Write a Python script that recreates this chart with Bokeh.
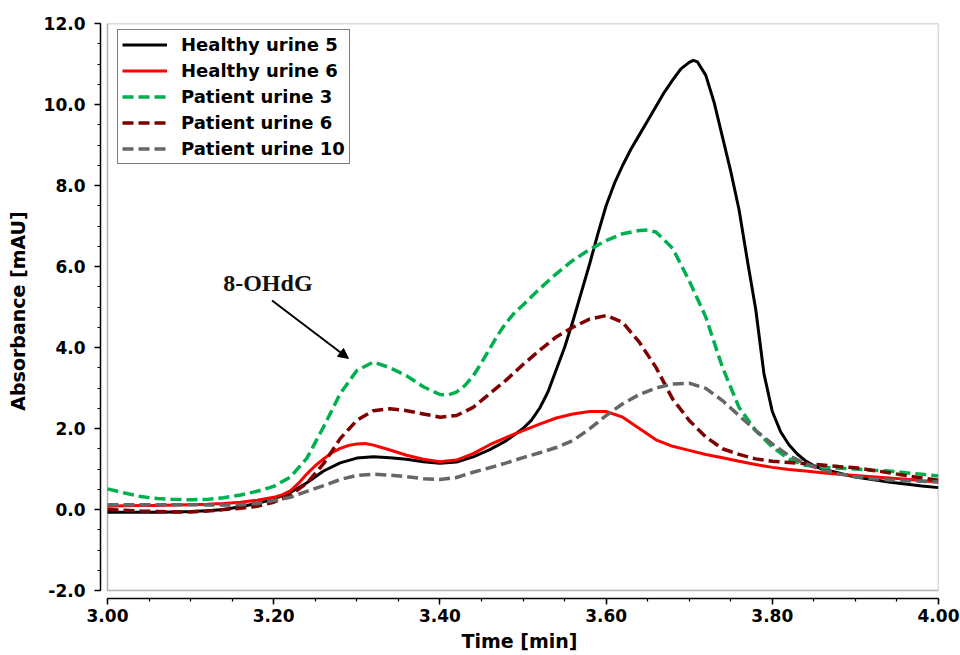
from bokeh.plotting import figure
from bokeh.models import (Range1d, FixedTicker, NumeralTickFormatter, BoxAnnotation,
                          Arrow, NormalHead, Label)
from bokeh.embed import file_html
from bokeh.resources import INLINE

# ---------------- data ----------------
t_h5 = [3.00, 3.02, 3.04, 3.06, 3.08, 3.10, 3.12, 3.14, 3.16, 3.18, 3.20, 3.22, 3.24,
        3.26, 3.28, 3.30, 3.32, 3.34, 3.36, 3.38, 3.40, 3.42, 3.44, 3.46, 3.48, 3.50,
        3.51, 3.52, 3.53, 3.54, 3.55, 3.56, 3.57, 3.58, 3.59, 3.60, 3.61, 3.62, 3.63,
        3.64, 3.65, 3.66, 3.67, 3.68, 3.69, 3.70, 3.705, 3.71, 3.72, 3.73, 3.74, 3.75, 3.76,
        3.77, 3.78, 3.79, 3.80, 3.81, 3.82, 3.83, 3.84, 3.85, 3.86, 3.88, 3.90, 3.92,
        3.94, 3.96, 3.98, 4.00]
healthy5 = [-0.07, -0.07, -0.07, -0.07, -0.06, -0.05, -0.03, 0.00, 0.07, 0.15, 0.26, 0.42, 0.66,
            0.95, 1.15, 1.27, 1.30, 1.28, 1.24, 1.18, 1.14, 1.17, 1.30, 1.48, 1.70, 2.00,
            2.20, 2.50, 2.90, 3.45, 4.00, 4.65, 5.35, 6.05, 6.80, 7.50, 8.05, 8.50, 8.90,
            9.25, 9.60, 9.95, 10.30, 10.60, 10.88, 11.04, 11.09, 11.05, 10.72, 10.05, 9.20, 8.35, 7.40,
            6.15, 4.95, 3.35, 2.42, 1.92, 1.60, 1.37, 1.20, 1.08, 1.00, 0.90, 0.80, 0.74,
            0.68, 0.63, 0.58, 0.54]

t_h6 = [3.00, 3.02, 3.04, 3.06, 3.08, 3.10, 3.12, 3.14, 3.16, 3.18, 3.20, 3.21, 3.22,
        3.23, 3.24, 3.25, 3.26, 3.27, 3.28, 3.29, 3.30, 3.31, 3.32, 3.34, 3.36, 3.38,
        3.40, 3.42, 3.44, 3.46, 3.48, 3.50, 3.52, 3.54, 3.56, 3.58, 3.60, 3.62, 3.64,
        3.66, 3.68, 3.70, 3.72, 3.74, 3.76, 3.78, 3.80, 3.82, 3.84, 3.86, 3.88, 3.90,
        3.92, 3.94, 3.96, 3.98, 4.00]
healthy6 = [0.08, 0.09, 0.10, 0.10, 0.11, 0.12, 0.13, 0.15, 0.18, 0.23, 0.30, 0.36, 0.46,
            0.65, 0.88, 1.08, 1.25, 1.40, 1.51, 1.58, 1.62, 1.63, 1.59, 1.47, 1.34, 1.24,
            1.18, 1.22, 1.38, 1.60, 1.78, 1.95, 2.11, 2.26, 2.36, 2.42, 2.42, 2.28, 2.00,
            1.72, 1.56, 1.46, 1.36, 1.28, 1.19, 1.11, 1.04, 0.99, 0.95, 0.91, 0.87, 0.84,
            0.81, 0.78, 0.75, 0.71, 0.68]

t_p3 = [3.00, 3.02, 3.04, 3.06, 3.08, 3.10, 3.12, 3.14, 3.16, 3.18, 3.20, 3.22, 3.24,
        3.26, 3.28, 3.30, 3.32, 3.34, 3.36, 3.38, 3.40, 3.41, 3.42, 3.43, 3.44, 3.45,
        3.46, 3.47, 3.48, 3.49, 3.50, 3.52, 3.54, 3.56, 3.58, 3.60, 3.62, 3.64, 3.65,
        3.66, 3.68, 3.70, 3.72, 3.74, 3.76, 3.78, 3.80, 3.82, 3.84, 3.86, 3.88, 3.90,
        3.92, 3.94, 3.96, 3.98, 4.00]
patient3 = [0.51, 0.41, 0.32, 0.27, 0.25, 0.24, 0.25, 0.29, 0.36, 0.45, 0.57, 0.80, 1.27,
            2.04, 2.86, 3.43, 3.64, 3.50, 3.30, 3.03, 2.84, 2.83, 2.90, 3.06, 3.30, 3.62,
            3.97, 4.32, 4.62, 4.86, 5.05, 5.45, 5.82, 6.15, 6.42, 6.64, 6.81, 6.89, 6.90,
            6.85, 6.45, 5.65, 4.75, 3.51, 2.52, 1.95, 1.54, 1.25, 1.09, 1.04, 1.02, 1.00,
            0.97, 0.95, 0.91, 0.87, 0.83]

t_p = [3.00, 3.02, 3.04, 3.06, 3.08, 3.10, 3.12, 3.14, 3.16, 3.18, 3.20, 3.22, 3.24,
       3.26, 3.28, 3.30, 3.32, 3.34, 3.36, 3.38, 3.40, 3.42, 3.44, 3.46, 3.48, 3.50,
       3.52, 3.54, 3.56, 3.58, 3.60, 3.62, 3.64, 3.66, 3.68, 3.70, 3.72, 3.74, 3.76,
       3.78, 3.80, 3.82, 3.84, 3.86, 3.88, 3.90, 3.92, 3.94, 3.96, 3.98, 4.00]
patient6 = [0.00, -0.02, -0.04, -0.05, -0.06, -0.06, -0.04, 0.00, 0.03, 0.08, 0.18, 0.35, 0.65,
            1.13, 1.75, 2.20, 2.44, 2.49, 2.44, 2.36, 2.28, 2.32, 2.52, 2.86, 3.20, 3.58,
            3.93, 4.26, 4.50, 4.70, 4.79, 4.62, 4.13, 3.51, 2.73, 2.20, 1.79, 1.50, 1.36,
            1.25, 1.19, 1.16, 1.13, 1.10, 1.06, 1.03, 0.97, 0.91, 0.84, 0.78, 0.72]

patient10 = [0.12, 0.12, 0.12, 0.12, 0.12, 0.12, 0.11, 0.11, 0.12, 0.15, 0.22, 0.30, 0.45,
             0.59, 0.74, 0.84, 0.87, 0.85, 0.81, 0.76, 0.74, 0.79, 0.92, 1.03, 1.15, 1.28,
             1.40, 1.53, 1.70, 1.99, 2.32, 2.61, 2.84, 3.00, 3.10, 3.12, 2.99, 2.69, 2.32,
             1.95, 1.62, 1.33, 1.13, 0.98, 0.88, 0.81, 0.76, 0.73, 0.71, 0.70, 0.68]

series_names = ["Healthy urine 5", "Healthy urine 6", "Patient urine 3",
                "Patient urine 6", "Patient urine 10"]

x_ticks = [3.0, 3.2, 3.4, 3.6, 3.8, 4.0]
y_ticks = [-2.0, 0.0, 2.0, 4.0, 6.0, 8.0, 10.0, 12.0]
x_minor = [round(3.0 + 0.05 * i, 2) for i in range(21)]
y_minor = [round(-2.0 + 0.5 * i, 1) for i in range(29)]

# annotation placement (data units)
note_text = "8-OHdG"
note_xy = (3.193, 5.60)
arrow_from = (3.198, 5.16)
arrow_to = (3.290, 3.73)

# ---------------- figure ----------------
X0, X1, Y0, Y1 = 3.0, 4.0, -2.0, 12.0
x_pad = 7 / 831.0 * (X1 - X0)
y_pad = 8 / 567.0 * (Y1 - Y0)

p = figure(width=960, height=655, output_backend="svg", toolbar_location=None,
           x_range=Range1d(X0 - x_pad, X1), y_range=Range1d(Y0 - y_pad, Y1),
           min_border_left=100, min_border_right=22, min_border_top=23, min_border_bottom=57)
p.outline_line_color = None
p.xgrid.visible = False
p.ygrid.visible = False
p.background_fill_color = "white"
p.border_fill_color = "white"

FONT = "DejaVu Sans"
for ax in (p.xaxis[0], p.yaxis[0]):
    ax.axis_line_width = 1.5
    ax.axis_line_color = "black"
    ax.major_tick_line_width = 1.5
    ax.minor_tick_line_width = 1.2
    ax.major_tick_in = 0
    ax.major_tick_out = 6
    ax.minor_tick_in = 0
    ax.minor_tick_out = 3
    ax.major_label_text_font = FONT
    ax.major_label_text_font_style = "bold"
    ax.major_label_text_font_size = "17px"
    ax.major_label_text_color = "black"
    ax.axis_label_text_font = FONT
    ax.axis_label_text_font_style = "bold"
    ax.axis_label_text_font_size = "19px"
    ax.axis_label_text_color = "black"

p.xaxis.ticker = FixedTicker(ticks=x_ticks, minor_ticks=x_minor)
p.yaxis.ticker = FixedTicker(ticks=y_ticks, minor_ticks=y_minor)
p.xaxis.formatter = NumeralTickFormatter(format="0.00")
p.yaxis.formatter = NumeralTickFormatter(format="0.0")
p.xaxis.bounds = (X0, X1)
p.yaxis.bounds = (Y0, Y1)
p.xaxis.axis_label = "Time [min]"
p.yaxis.axis_label = "Absorbance [mAU]"
p.xaxis.major_label_standoff = 4
p.xaxis.axis_label_standoff = 5
p.yaxis.major_label_standoff = 9
p.yaxis.axis_label_standoff = 12

# plot frame box
p.add_layout(BoxAnnotation(left=X0, right=X1, bottom=Y0, top=Y1, fill_color=None,
                           line_color="black", line_width=1.5, level="underlay"))

LW = 3
DW = 3.5
DASH = "11 5"
p.line(t_h5, healthy5, line_color="black", line_width=LW, legend_label=series_names[0],
       line_join="round")
p.line(t_h6, healthy6, line_color="#ff0000", line_width=LW, legend_label=series_names[1],
       line_join="round")
p.line(t_p3, patient3, line_color="#00b04f", line_width=DW, line_dash=DASH,
       legend_label=series_names[2], line_join="round")
p.line(t_p, patient6, line_color="#7f0000", line_width=DW, line_dash=DASH,
       legend_label=series_names[3], line_join="round")
p.line(t_p, patient10, line_color="#666666", line_width=DW, line_dash=DASH,
       legend_label=series_names[4], line_join="round")

lg = p.legend[0]
lg.location = (17, 434)
lg.label_text_font = FONT
lg.label_text_font_style = "bold"
lg.label_text_font_size = "18px"
lg.label_text_color = "black"
lg.glyph_width = 45
lg.glyph_height = 21
lg.label_height = 21
lg.spacing = 5
lg.padding = 4
lg.margin = 0
lg.label_standoff = 14
lg.border_line_color = "black"
lg.border_line_width = 1.5
lg.background_fill_alpha = 1.0

p.add_layout(Label(x=note_xy[0], y=note_xy[1], text=note_text, text_align="center",
                   text_baseline="middle", text_font="Liberation Serif",
                   text_font_style="bold", text_font_size="24px", text_color="#111111"))
p.add_layout(Arrow(end=NormalHead(size=10, fill_color="black", line_color="black"),
                   x_start=arrow_from[0], y_start=arrow_from[1],
                   x_end=arrow_to[0], y_end=arrow_to[1],
                   line_color="black", line_width=2))

open("out.html", "w").write(file_html(p, INLINE))
